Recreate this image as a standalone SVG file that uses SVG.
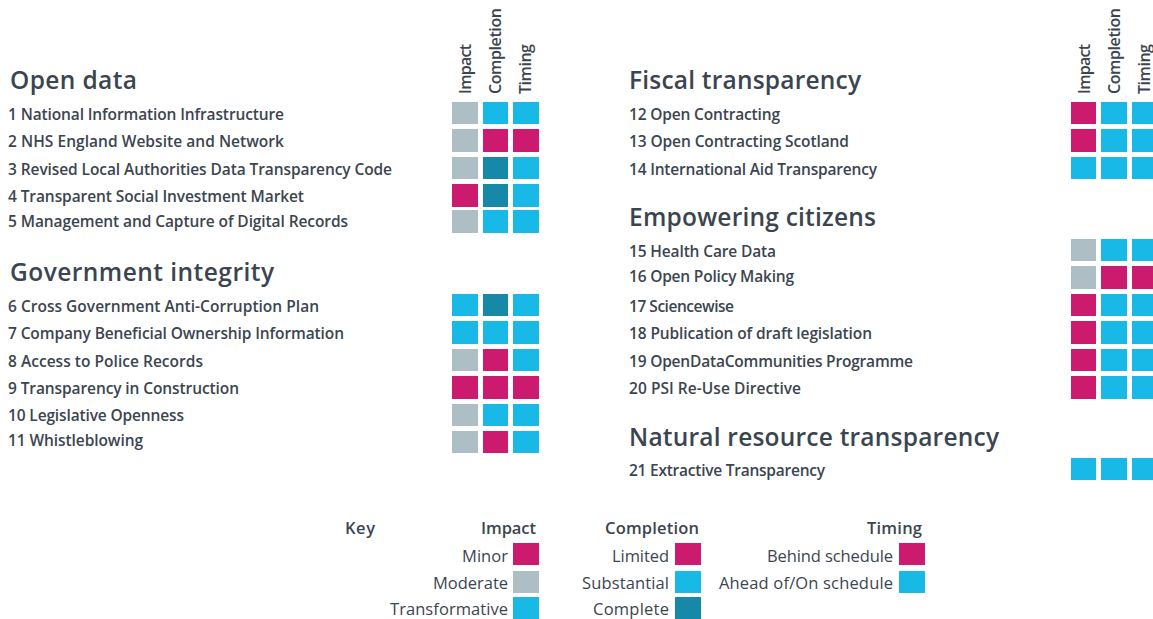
<svg xmlns="http://www.w3.org/2000/svg" width="1153" height="619" viewBox="0 0 1153 619">
<style>
text{font-family:"Open Sans","Liberation Sans",sans-serif;fill:#3b4550}
.h{font-size:24.5px;font-weight:600}
.i{font-size:15.5px;font-weight:600}
.c{font-size:16px;font-weight:600}
.l{font-size:16.5px;font-weight:400;text-anchor:end}
.lh{font-size:16.5px;font-weight:600}
.e{text-anchor:end}
.p{fill:#cc1a6f}
.g{fill:#adbec4}
.b{fill:#18b9e6}
.t{fill:#1689a9}
</style>
<rect width="1153" height="619" fill="#ffffff"/>
<g id="headers">
<text class="c" transform="translate(471,94) rotate(-90)" textLength="50">Impact</text>
<text class="c" transform="translate(501,94) rotate(-90)" textLength="86">Completion</text>
<text class="c" transform="translate(531,94) rotate(-90)" textLength="50">Timing</text>
<text class="c" transform="translate(1090,94) rotate(-90)" textLength="50">Impact</text>
<text class="c" transform="translate(1120,94) rotate(-90)" textLength="86">Completion</text>
<text class="c" transform="translate(1150,94) rotate(-90)" textLength="50">Timing</text>
</g>
<g id="section-open-data">
<text class="h" x="10" y="89" textLength="127">Open data</text>
<g id="item1"><text class="i" x="8" y="120" textLength="276">1 National Information Infrastructure</text><rect class="g" x="452" y="102" width="26" height="22"/><rect class="b" x="483" y="102" width="25" height="22"/><rect class="b" x="513" y="102" width="26" height="22"/></g>
<g id="item2"><text class="i" x="8" y="147" textLength="276">2 NHS England Website and Network</text><rect class="g" x="452" y="129" width="26" height="23"/><rect class="p" x="483" y="129" width="25" height="23"/><rect class="p" x="513" y="129" width="26" height="23"/></g>
<g id="item3"><text class="i" x="8" y="175" textLength="384">3 Revised Local Authorities Data Transparency Code</text><rect class="g" x="452" y="157" width="26" height="22"/><rect class="t" x="483" y="157" width="25" height="22"/><rect class="b" x="513" y="157" width="26" height="22"/></g>
<g id="item4"><text class="i" x="8" y="202" textLength="296">4 Transparent Social Investment Market</text><rect class="p" x="452" y="184" width="26" height="23"/><rect class="t" x="483" y="184" width="25" height="23"/><rect class="b" x="513" y="184" width="26" height="23"/></g>
<g id="item5"><text class="i" x="8" y="227" textLength="340">5 Management and Capture of Digital Records</text><rect class="g" x="452" y="210" width="26" height="23"/><rect class="b" x="483" y="210" width="25" height="23"/><rect class="b" x="513" y="210" width="26" height="23"/></g>
</g>
<g id="section-government-integrity">
<text class="h" x="10" y="281" textLength="264">Government integrity</text>
<g id="item6"><text class="i" x="8" y="312" textLength="311">6 Cross Government Anti-Corruption Plan</text><rect class="b" x="452" y="294" width="26" height="22"/><rect class="t" x="483" y="294" width="25" height="22"/><rect class="b" x="513" y="294" width="26" height="22"/></g>
<g id="item7"><text class="i" x="8" y="339" textLength="336">7 Company Beneficial Ownership Information</text><rect class="b" x="452" y="321" width="26" height="23"/><rect class="b" x="483" y="321" width="25" height="23"/><rect class="b" x="513" y="321" width="26" height="23"/></g>
<g id="item8"><text class="i" x="8" y="367" textLength="195">8 Access to Police Records</text><rect class="g" x="452" y="349" width="26" height="22"/><rect class="p" x="483" y="349" width="25" height="22"/><rect class="b" x="513" y="349" width="26" height="22"/></g>
<g id="item9"><text class="i" x="8" y="394" textLength="231">9 Transparency in Construction</text><rect class="p" x="452" y="376" width="26" height="23"/><rect class="p" x="483" y="376" width="25" height="23"/><rect class="p" x="513" y="376" width="26" height="23"/></g>
<g id="item10"><text class="i" x="8" y="421" textLength="176">10 Legislative Openness</text><rect class="g" x="452" y="404" width="26" height="22"/><rect class="b" x="483" y="404" width="25" height="22"/><rect class="b" x="513" y="404" width="26" height="22"/></g>
<g id="item11"><text class="i" x="8" y="446" textLength="135">11 Whistleblowing</text><rect class="g" x="452" y="431" width="26" height="22"/><rect class="p" x="483" y="431" width="25" height="22"/><rect class="b" x="513" y="431" width="26" height="22"/></g>
</g>
<g id="section-fiscal-transparency">
<text class="h" x="629" y="89" textLength="232">Fiscal transparency</text>
<g id="item12"><text class="i" x="629" y="120" textLength="151">12 Open Contracting</text><rect class="p" x="1071" y="102" width="25" height="22"/><rect class="b" x="1101" y="102" width="26" height="22"/><rect class="b" x="1132" y="102" width="26" height="22"/></g>
<g id="item13"><text class="i" x="629" y="147" textLength="220">13 Open Contracting Scotland</text><rect class="p" x="1071" y="129" width="25" height="23"/><rect class="b" x="1101" y="129" width="26" height="23"/><rect class="b" x="1132" y="129" width="26" height="23"/></g>
<g id="item14"><text class="i" x="629" y="175" textLength="248">14 International Aid Transparency</text><rect class="b" x="1071" y="157" width="25" height="22"/><rect class="b" x="1101" y="157" width="26" height="22"/><rect class="b" x="1132" y="157" width="26" height="22"/></g>
</g>
<g id="section-empowering-citizens">
<text class="h" x="629" y="226" textLength="247">Empowering citizens</text>
<g id="item15"><text class="i" x="629" y="257" textLength="147">15 Health Care Data</text><rect class="g" x="1071" y="239" width="25" height="22"/><rect class="b" x="1101" y="239" width="26" height="22"/><rect class="b" x="1132" y="239" width="26" height="22"/></g>
<g id="item16"><text class="i" x="629" y="282" textLength="165">16 Open Policy Making</text><rect class="g" x="1071" y="266" width="25" height="23"/><rect class="p" x="1101" y="266" width="26" height="23"/><rect class="p" x="1132" y="266" width="26" height="23"/></g>
<g id="item17"><text class="i" x="629" y="312" textLength="105">17 Sciencewise</text><rect class="p" x="1071" y="294" width="25" height="22"/><rect class="b" x="1101" y="294" width="26" height="22"/><rect class="b" x="1132" y="294" width="26" height="22"/></g>
<g id="item18"><text class="i" x="629" y="339" textLength="243">18 Publication of draft legislation</text><rect class="p" x="1071" y="321" width="25" height="23"/><rect class="b" x="1101" y="321" width="26" height="23"/><rect class="b" x="1132" y="321" width="26" height="23"/></g>
<g id="item19"><text class="i" x="629" y="367" textLength="284">19 OpenDataCommunities Programme</text><rect class="p" x="1071" y="349" width="25" height="22"/><rect class="b" x="1101" y="349" width="26" height="22"/><rect class="b" x="1132" y="349" width="26" height="22"/></g>
<g id="item20"><text class="i" x="629" y="394" textLength="172">20 PSI Re-Use Directive</text><rect class="p" x="1071" y="376" width="25" height="23"/><rect class="b" x="1101" y="376" width="26" height="23"/><rect class="b" x="1132" y="376" width="26" height="23"/></g>
</g>
<g id="section-natural-resource-transparency">
<text class="h" x="629" y="446" textLength="370">Natural resource transparency</text>
<g id="item21"><text class="i" x="629" y="476" textLength="196">21 Extractive Transparency</text><rect class="b" x="1071" y="458" width="25" height="22"/><rect class="b" x="1101" y="458" width="26" height="22"/><rect class="b" x="1132" y="458" width="26" height="22"/></g>
</g>
<g id="key">
<text class="lh" x="345" y="534" textLength="30">Key</text>
<text class="lh e" x="536" y="534" textLength="55">Impact</text>
<text class="lh" x="605" y="534" textLength="94">Completion</text>
<text class="lh e" x="922" y="534" textLength="55">Timing</text>
<text class="l" x="508" y="562" textLength="46">Minor</text><rect class="p" x="513" y="543" width="26" height="22"/>
<text class="l" x="508" y="589" textLength="75">Moderate</text><rect class="g" x="513" y="571" width="26" height="22"/>
<text class="l" x="508" y="615" textLength="118">Transformative</text><rect class="b" x="513" y="597" width="26" height="22"/>
<text class="l" x="669" y="562" textLength="57">Limited</text><rect class="p" x="675" y="543" width="26" height="22"/>
<text class="l" x="669" y="589" textLength="87">Substantial</text><rect class="b" x="675" y="571" width="26" height="22"/>
<text class="l" x="669" y="615" textLength="76">Complete</text><rect class="t" x="675" y="597" width="26" height="22"/>
<text class="l" x="893" y="562" textLength="126">Behind schedule</text><rect class="p" x="899" y="543" width="26" height="22"/>
<text class="l" x="893" y="589" textLength="174">Ahead of/On schedule</text><rect class="b" x="899" y="571" width="26" height="22"/>
</g>
</svg>
